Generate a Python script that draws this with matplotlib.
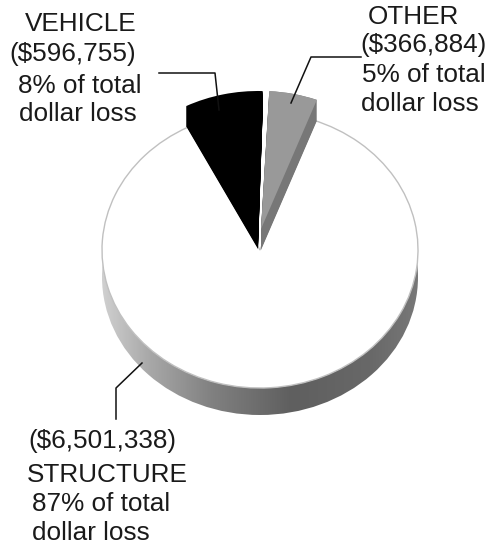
import matplotlib
matplotlib.use("Agg")
import matplotlib.pyplot as plt
import numpy as np
from matplotlib.colors import LinearSegmentedColormap
from matplotlib.patches import Wedge, Ellipse
from matplotlib.transforms import Affine2D

# Dollar loss by category
categories = ["VEHICLE", "OTHER", "STRUCTURE"]
losses = [596755, 366884, 6501338]
percents = [8, 5, 87]

shares = [v / sum(losses) * 360 for v in losses]

plt.rcParams["font.family"] = ["Liberation Sans", "DejaVu Sans"]

# Axes in image pixels, y pointing down
fig = plt.figure(figsize=(4.87, 5.44), dpi=100)
ax = fig.add_axes([0, 0, 1, 1])


def ellipse_tf(cx, cy):
    return Affine2D().scale(RX, -RY).translate(cx, cy) + ax.transData


RX, RY = 158, 138
CX, CY = 260, 250
DEPTH = 27
LIFT = 21

# Side of the pie, shaded left to right
side_cmap = LinearSegmentedColormap.from_list("side", [
    (0.0, "#d0d0d0"), (0.15, "#a8a8a8"), (0.35, "#808080"),
    (0.6, "#5f5f5f"), (0.85, "#686868"), (1.0, "#787878")])
grad = ax.imshow(np.linspace(0, 1, 256).reshape(1, -1), cmap=side_cmap, aspect="auto",
                 extent=(CX - RX, CX + RX, CY + RY + DEPTH, CY - RY), zorder=1)
side = Ellipse((CX, CY + DEPTH), 2 * RX, 2 * RY, transform=ax.transData, facecolor="none", edgecolor="none")
ax.add_patch(side)
grad.set_clip_path(side)

ax.add_patch(Ellipse((CX, CY), 2 * RX, 2 * RY, facecolor="white", edgecolor="none", zorder=2))

# Structure slice, starts where the vehicle slice ends
start_vehicle = 88.3
end_vehicle = start_vehicle + shares[0]
ax.add_patch(Wedge((0, 0), 1, end_vehicle, end_vehicle + shares[2], facecolor="white",
                   edgecolor="#c0c0c0", linewidth=1.0, transform=ellipse_tf(CX, CY), zorder=3))

# Vehicle slice, lifted out of the pie
for lift in np.arange(0, LIFT):
    ax.add_patch(Wedge((0, 0), 1, start_vehicle, end_vehicle, facecolor="black", edgecolor="none",
                       transform=ellipse_tf(258, 249 - lift), zorder=4))

# Other slice, dark side with lighter top
end_other = 87.0
start_other = end_other - shares[1]
for lift in np.arange(0, LIFT + 1):
    ax.add_patch(Wedge((0, 0), 1, start_other, end_other, facecolor="#777777", edgecolor="none",
                       transform=ellipse_tf(261, 250 - lift), zorder=4))
ax.add_patch(Wedge((0, 0), 1, start_other, end_other, facecolor="#999999", edgecolor="none",
                   transform=ellipse_tf(261, 229), zorder=5))

# Leader lines
ax.plot([159, 215, 219], [73, 73, 110], color="#111111", lw=1.1, zorder=6)
ax.plot([291, 311, 361], [103, 57, 57], color="#111111", lw=1.1, zorder=6)
ax.plot([142, 116, 116], [363, 388, 419], color="#111111", lw=1.1, zorder=6)

# Labels
txt = dict(fontsize=18.8, color="#1a1a1a", ha="center", va="center", zorder=7)
ax.text(81, 24, categories[0], **txt)
ax.text(73, 54, f"(${losses[0]:,})", **txt)
ax.text(80, 86, f"{percents[0]}% of total", **txt)
ax.text(78, 114, "dollar loss", **txt)
ax.text(413, 17, categories[1], **txt)
ax.text(423, 45, f"(${losses[1]:,})", **txt)
ax.text(424, 75, f"{percents[1]}% of total", **txt)
ax.text(420, 104, "dollar loss", **txt)
ax.text(102, 441, f"(${losses[2]:,})", **txt)
ax.text(107, 475, categories[2], **txt)
ax.text(101, 504, f"{percents[2]}% of total", **txt)
ax.text(91, 533, "dollar loss", **txt)

ax.set_xlim(0, 487)
ax.set_ylim(544, 0)
ax.axis("off")

fig.savefig("out.png", dpi=100)
plt.close(fig)
